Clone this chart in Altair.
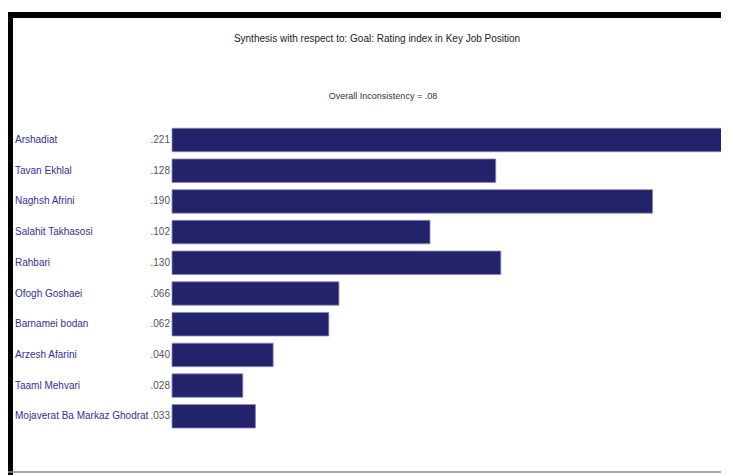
import altair as alt
import pandas as pd

categories = ["Arshadiat", "Tavan Ekhlal", "Naghsh Afrini", "Salahit Takhasosi", "Rahbari",
              "Ofogh Goshaei", "Barnamei bodan", "Arzesh Afarini", "Taaml Mehvari",
              "Mojaverat Ba Markaz Ghodrat"]
values = [0.221, 0.128, 0.190, 0.102, 0.130, 0.066, 0.062, 0.040, 0.028, 0.033]
value_labels = [".221", ".128", ".190", ".102", ".130", ".066", ".062", ".040", ".028", ".033"]
title_text = "Synthesis with respect to: Goal: Rating index in Key Job Position"
subtitle_text = "Overall Inconsistency = .08"

df = pd.DataFrame({"cat": categories, "val": values, "lab": value_labels})

FONT = "Liberation Sans, Arial, sans-serif"
W, H = 713, 467

xs = alt.Scale(domain=[0, 0.221], range=[164, 723])
ys = alt.Scale(domain=categories, range=[116.65, 423.65], paddingInner=0.235, paddingOuter=0.1175)

base = alt.Chart(df)

bars = base.mark_bar(color="#23236b", stroke="#8a8ac0", strokeWidth=0.8).encode(
    x=alt.X("val:Q", scale=xs, axis=None),
    y=alt.Y("cat:N", scale=ys, axis=None, sort=categories),
)

cat_text = base.mark_text(align="left", baseline="middle", font=FONT, fontSize=10,
                          color="#2f2f9e").encode(
    x=alt.value(7),
    y=alt.Y("cat:N", scale=ys, axis=None, sort=categories),
    text="cat:N",
)

val_text = base.mark_text(align="right", baseline="middle", font=FONT, fontSize=10,
                          color="#555555").encode(
    x=alt.value(162),
    y=alt.Y("cat:N", scale=ys, axis=None, sort=categories),
    text="lab:N",
)

tdf = pd.DataFrame({"t": [title_text], "s": [subtitle_text]})
title = alt.Chart(tdf).mark_text(align="center", baseline="middle", font=FONT, fontSize=10,
                                 color="#222222").encode(
    x=alt.value(369), y=alt.value(31), text="t:N")
subtitle = alt.Chart(tdf).mark_text(align="center", baseline="middle", font=FONT, fontSize=9,
                                    color="#333333").encode(
    x=alt.value(375), y=alt.value(88), text="s:N")

top_line = alt.Chart(tdf).mark_rule(color="black", strokeWidth=6).encode(
    x=alt.value(0), x2=alt.value(W), y=alt.value(7))
left_line = alt.Chart(tdf).mark_rule(color="black", strokeWidth=5).encode(
    x=alt.value(2.5), y=alt.value(4), y2=alt.value(H))
bottom_line = alt.Chart(tdf).mark_rule(color="#888888", strokeWidth=1.5).encode(
    x=alt.value(0), x2=alt.value(W), y=alt.value(464))

chart = alt.layer(top_line, left_line, bottom_line, title, subtitle, bars, cat_text, val_text).properties(
    width=W, height=H, padding=0, autosize=alt.AutoSizeParams(type="none"),
    background="white"
).configure_view(stroke=None)

chart.save("out.html", embed_options={"renderer": "svg", "actions": False})
